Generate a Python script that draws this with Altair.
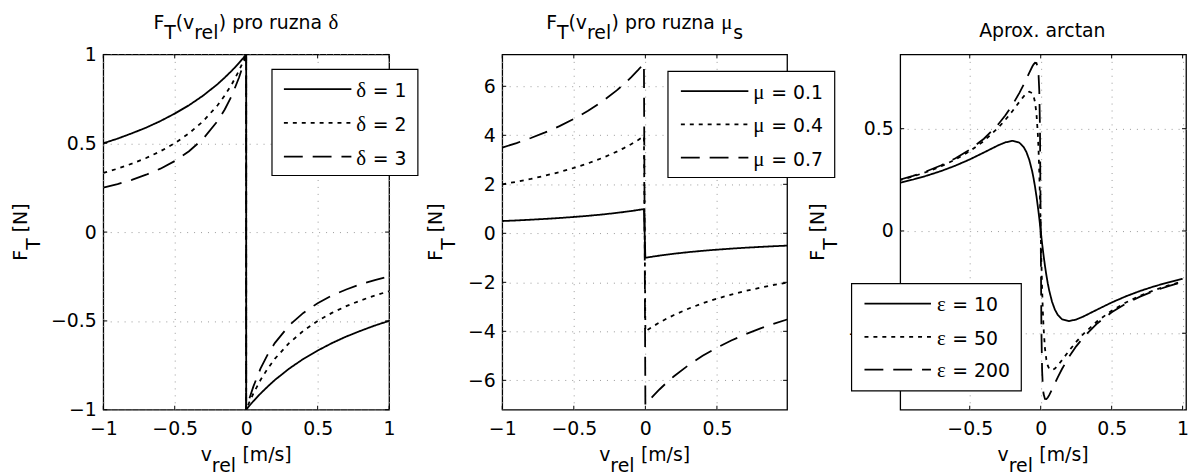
import altair as alt
import pandas as pd

# ---------------- data ----------------
# Panel 1: F_T(v_rel) for several delta
v1 = [-1.0, -0.9, -0.8, -0.7, -0.6, -0.5, -0.4, -0.3, -0.2, -0.15, -0.1, -0.05, -0.02, 0.0,
      0.0, 0.02, 0.05, 0.1, 0.15, 0.2, 0.3, 0.4, 0.5, 0.6, 0.7, 0.8, 0.9, 1.0]
f1_d1 = [0.5, 0.526, 0.556, 0.588, 0.625, 0.667, 0.714, 0.769, 0.833, 0.870, 0.909, 0.952, 0.980, 1.0,
         -1.0, -0.980, -0.952, -0.909, -0.870, -0.833, -0.769, -0.714, -0.667, -0.625, -0.588, -0.556, -0.526, -0.5]
f1_d2 = [0.333, 0.357, 0.385, 0.417, 0.455, 0.5, 0.556, 0.625, 0.714, 0.769, 0.833, 0.909, 0.962, 1.0,
         -1.0, -0.962, -0.909, -0.833, -0.769, -0.714, -0.625, -0.556, -0.5, -0.455, -0.417, -0.385, -0.357, -0.333]
f1_d3 = [0.25, 0.270, 0.294, 0.323, 0.357, 0.4, 0.455, 0.526, 0.625, 0.690, 0.769, 0.870, 0.943, 1.0,
         -1.0, -0.943, -0.870, -0.769, -0.690, -0.625, -0.526, -0.455, -0.4, -0.357, -0.323, -0.294, -0.270, -0.25]
leg1_greek = "δ"
leg1_vals = ["1", "2", "3"]

# Panel 2: F_T(v_rel) for several mu_s
v2 = [-1.0, -0.9, -0.8, -0.7, -0.6, -0.5, -0.4, -0.3, -0.2, -0.15, -0.1, -0.05, -0.02, -0.01,
      0.0, 0.02, 0.05, 0.1, 0.15, 0.2, 0.3, 0.4, 0.5, 0.6, 0.7, 0.8, 0.9, 0.99]
f2_m1 = [0.5, 0.526, 0.556, 0.588, 0.625, 0.667, 0.714, 0.769, 0.833, 0.870, 0.909, 0.952, 0.980, 0.990,
         -1.0, -0.980, -0.952, -0.909, -0.870, -0.833, -0.769, -0.714, -0.667, -0.625, -0.588, -0.556, -0.526, -0.503]
f2_m4 = [2.0, 2.105, 2.222, 2.353, 2.5, 2.667, 2.857, 3.077, 3.333, 3.478, 3.636, 3.810, 3.922, 3.960,
         -4.0, -3.922, -3.810, -3.636, -3.478, -3.333, -3.077, -2.857, -2.667, -2.5, -2.353, -2.222, -2.105, -2.010]
f2_m7 = [3.5, 3.684, 3.889, 4.118, 4.375, 4.667, 5.0, 5.385, 5.833, 6.087, 6.364, 6.667, 6.863, 6.931,
         -7.0, -6.863, -6.667, -6.364, -6.087, -5.833, -5.385, -5.0, -4.667, -4.375, -4.118, -3.889, -3.684, -3.518]
leg2_greek = "μ"
leg2_vals = ["0.1", "0.4", "0.7"]

# Panel 3: arctan approximation for several epsilon
v3 = [-1.0, -0.9, -0.8, -0.7, -0.6, -0.5, -0.4, -0.3, -0.25, -0.2, -0.15, -0.12, -0.1, -0.08, -0.06,
      -0.05, -0.04, -0.03, -0.02, -0.015, -0.01, -0.005, 0.0, 0.005, 0.01, 0.015, 0.02, 0.03, 0.04,
      0.05, 0.06, 0.08, 0.1, 0.12, 0.15, 0.2, 0.25, 0.3, 0.4, 0.5, 0.6, 0.7, 0.8, 0.9, 1.0]
f3_e10 = [0.2341, 0.2512, 0.2708, 0.2934, 0.3196, 0.3497, 0.3837, 0.4185, 0.4330, 0.4405, 0.4315, 0.4101,
          0.3846, 0.3464, 0.2916, 0.2567, 0.2163, 0.1702, 0.1186, 0.0907, 0.0616, 0.0313, 0.0,
          -0.0313, -0.0616, -0.0907, -0.1186, -0.1702, -0.2163, -0.2567, -0.2916, -0.3464, -0.3846,
          -0.4101, -0.4315, -0.4405, -0.4330, -0.4185, -0.3837, -0.3497, -0.3196, -0.2934, -0.2708,
          -0.2512, -0.2341]
f3_e50 = [0.2468, 0.2665, 0.2894, 0.3167, 0.3496, 0.3898, 0.4401, 0.5040, 0.5424, 0.5853, 0.6315, 0.6580,
          0.6726, 0.6807, 0.6739, 0.6589, 0.6293, 0.5740, 0.4717, 0.3920, 0.2866, 0.1537, 0.0,
          -0.1537, -0.2866, -0.3920, -0.4717, -0.5740, -0.6293, -0.6589, -0.6739, -0.6807, -0.6726,
          -0.6580, -0.6315, -0.5853, -0.5424, -0.5040, -0.4401, -0.3898, -0.3496, -0.3167, -0.2894,
          -0.2665, -0.2468]
f3_e200 = [0.2492, 0.2693, 0.2930, 0.3211, 0.3553, 0.3975, 0.4509, 0.5207, 0.5642, 0.6151, 0.6750, 0.7158,
           0.7448, 0.7744, 0.8026, 0.8144, 0.8222, 0.8210, 0.7963, 0.7609, 0.6843, 0.4926, 0.0,
           -0.4926, -0.6843, -0.7609, -0.7963, -0.8210, -0.8222, -0.8144, -0.8026, -0.7744, -0.7448,
           -0.7158, -0.6750, -0.6151, -0.5642, -0.5207, -0.4509, -0.3975, -0.3553, -0.3211, -0.2930,
           -0.2693, -0.2492]
leg3_greek = "ε"
leg3_vals = ["10", "50", "200"]

# axis ticks
x1_ticks = [-1, -0.5, 0, 0.5, 1]
y1_ticks = [-1, -0.5, 0, 0.5, 1]
x2_ticks = [-1, -0.5, 0, 0.5]
y2_ticks = [-6, -4, -2, 0, 2, 4, 6]
x3_ticks = [-0.5, 0, 0.5, 1]
y3_ticks = [-0.5, 0, 0.5]

# ---------------- style ----------------
SANS = "DejaVu Sans"
SERIF = "Liberation Serif"
FS = 19
GS = 21
DASHES = [[1, 0], [4, 5], [19, 10]]
H = 358
ONE = pd.DataFrame({"a": [0]})

W_SANS = {" ": .318, "(": .390, ")": .390, "[": .390, "]": .390, "/": .337, "=": .838, ".": .318,
          "A": .684, "F": .575, "N": .748, "T": .611, "a": .613, "c": .550, "e": .615, "l": .278,
          "m": .974, "n": .634, "o": .612, "p": .635, "r": .411, "s": .521, "t": .392, "u": .634,
          "v": .592, "x": .592, "z": .525}
for d in "0123456789":
    W_SANS[d] = .636
W_SERIF = {"δ": .50, "μ": .576, "ε": .443, " ": .25}


def tw(s, font, size):
    tab = W_SERIF if font == SERIF else W_SANS
    return sum(tab.get(c, .6) for c in s) * size


def text_at(t, font, size, x, y, angle=0):
    return alt.Chart(ONE).mark_text(align="left", baseline="alphabetic", font=font, fontSize=size,
                                    color="black", angle=angle).encode(
        x=alt.value(x), y=alt.value(y), text=alt.value(t))


def hrun(segs, y, x_center=None, x_left=None):
    total = sum(tw(t, f, s) for t, f, s, d in segs)
    x = x_left if x_left is not None else x_center - total / 2
    out = []
    for t, f, s, d in segs:
        lead = len(t) - len(t.lstrip())
        out.append(text_at(t.strip(), f, s, x + tw(" " * lead, f, s), y + d))
        x += tw(t, f, s)
    return out


def vrun(segs, x_base, y_center):
    total = sum(tw(t, f, s) for t, f, s, d in segs)
    y = y_center + total / 2
    out = []
    for t, f, s, d in segs:
        lead = len(t) - len(t.lstrip())
        out.append(text_at(t.strip(), f, s, x_base + d, y - tw(" " * lead, f, s), angle=270))
        y -= tw(t, f, s)
    return out


def axis(vals, pad):
    return alt.Axis(values=vals, format="~g", grid=True, gridDash=[1, 6], gridColor="#9a9a9a",
                    gridWidth=1, ticks=False, domain=False, labelFont=SANS, labelFontSize=FS,
                    labelColor="black", labelPadding=pad, labelFlush=False, labelOverlap=False,
                    labelBound=False, title=None)


def panel(W, v, series, keys, xdom, ydom, xt, yt, legend, title_layers, ytitle_x):
    xs = alt.Scale(domain=xdom, nice=False, zero=False)
    ys = alt.Scale(domain=ydom, nice=False, zero=False)
    xa = axis(xt, 10)
    ya = axis(yt, 7)
    rows = []
    for key, vals in zip(keys, series):
        for i, (a, b) in enumerate(zip(v, vals)):
            rows.append({"v": a, "F": b, "s": key, "i": i})
    df = pd.DataFrame(rows)
    layers = []
    lines = alt.Chart(df).mark_line(color="black", strokeWidth=1.8, clip=True).encode(
        x=alt.X("v:Q", scale=xs, axis=xa),
        y=alt.Y("F:Q", scale=ys, axis=ya),
        strokeDash=alt.StrokeDash("s:N", scale=alt.Scale(domain=keys, range=DASHES), legend=None),
        order="i:Q")
    layers.append(lines)
    # inward ticks on all four sides
    dx = pd.DataFrame({"t": xt})
    dy = pd.DataFrame({"t": yt})
    L = 4
    for y0, y1 in [(H, H - L), (0, L)]:
        layers.append(alt.Chart(dx).mark_rule(color="black", strokeWidth=1).encode(
            x=alt.X("t:Q", scale=xs, axis=xa), y=alt.value(y0), y2=alt.value(y1)))
    for x0, x1 in [(0, L), (W, W - L)]:
        layers.append(alt.Chart(dy).mark_rule(color="black", strokeWidth=1).encode(
            y=alt.Y("t:Q", scale=ys, axis=ya), x=alt.value(x0), x2=alt.value(x1)))
    # legend box
    (bx0, bx1, by0, by1, lx0, lx1, tx, rows_y, greek, vals_txt) = legend
    layers.append(alt.Chart(ONE).mark_rect(fill="white", stroke="black", strokeWidth=1.2).encode(
        x=alt.value(bx0), x2=alt.value(bx1), y=alt.value(by0), y2=alt.value(by1)))
    for ry, dash, val in zip(rows_y, DASHES, vals_txt):
        layers.append(alt.Chart(ONE).mark_rule(color="black", strokeWidth=1.8, strokeDash=dash).encode(
            x=alt.value(lx0), x2=alt.value(lx1), y=alt.value(ry)))
        layers += hrun([(greek, SERIF, GS, 0), (" = " + val, SANS, FS, 0)], ry + 8, x_left=tx)
    # titles
    layers += title_layers
    layers += hrun([("v", SANS, FS, 0), ("rel", SANS, FS, 11.5), (" [m/s]", SANS, FS, 0)],
                   H + 51.5, x_center=W / 2)
    layers += vrun([("F", SANS, FS, 0), ("T", SANS, FS, 13), (" [N]", SANS, FS, 0)],
                   ytitle_x, H / 2)
    return layers


W1, W2, W3 = 288, 287, 288

t1 = hrun([("F", SANS, FS, 0), ("T", SANS, FS, 10), ("(v", SANS, FS, 0), ("rel", SANS, FS, 10),
           (") pro ruzna ", SANS, FS, 0), ("δ", SERIF, GS, 0)], -26, x_center=W1 / 2)
t2 = hrun([("F", SANS, FS, 0), ("T", SANS, FS, 10), ("(v", SANS, FS, 0), ("rel", SANS, FS, 10),
           (") pro ruzna ", SANS, FS, 0), ("μ", SERIF, GS, 0), ("s", SANS, FS, 10)], -26, x_center=W2 / 2)
t3 = hrun([("Aprox. arctan", SANS, FS, 0)], -18, x_center=W3 / 2)

keys1 = ["d1", "d2", "d3"]
keys2 = ["m1", "m4", "m7"]
keys3 = ["e10", "e50", "e200"]

p1_layers = panel(W1, v1, [f1_d1, f1_d2, f1_d3], keys1, [-1, 1], [-1, 1], x1_ticks, y1_ticks,
                  (170, 317, 15, 122, 182, 250, 255, [35, 69, 103], leg1_greek, leg1_vals), t1, -77)
# invisible anchor fixing the page offset of the first plot area
p1_layers.append(alt.Chart(ONE).mark_rule(opacity=0).encode(
    x=alt.value(-95), x2=alt.value(-94), y=alt.value(-44), y2=alt.value(-44)))
p2_layers = panel(W2, v2, [f2_m1, f2_m4, f2_m7], keys2, [-1, 0.99], [-7.2, 7.3], x2_ticks, y2_ticks,
                  (167, 335, 17, 124, 180, 248, 253, [37, 70.5, 104], leg2_greek, leg2_vals), t2, -61)
p3_layers = panel(W3, v3, [f3_e10, f3_e50, f3_e200], keys3, [-0.99, 1.024], [-0.874, 0.863],
                  x3_ticks, y3_ticks,
                  (-49, 122, 231, 339, -36, 31, 37, [251, 284.5, 317.5], leg3_greek, leg3_vals), t3, -77)

p1 = alt.layer(*p1_layers).properties(width=W1, height=H)
p2 = alt.layer(*p2_layers).properties(width=W2, height=H)
p3 = alt.layer(*p3_layers).properties(width=W3, height=H)

chart = alt.hconcat(p1, p2, p3, spacing=114, bounds="flush").properties(
    padding=0, background="white"
).configure_view(stroke="black", strokeWidth=1.3)

chart.save("out.html", embed_options={"renderer": "svg", "actions": False})
